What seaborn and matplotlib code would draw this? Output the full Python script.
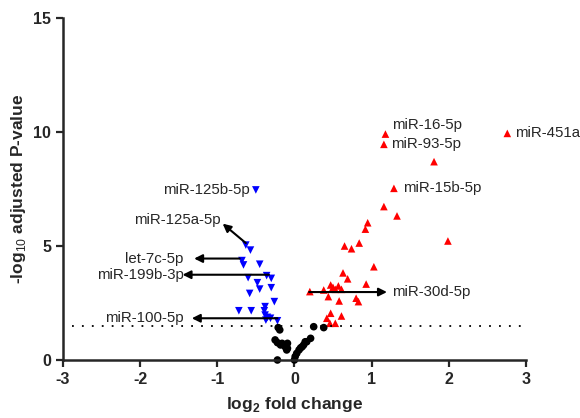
import numpy as np
import pandas as pd
import matplotlib
matplotlib.use('Agg')
import matplotlib.pyplot as plt
import seaborn as sns

# log2 fold change / -log10 adjusted p
down_x = [-0.50, -0.63, -0.57, -0.68, -0.66, -0.45, -0.60, -0.36, -0.30, -0.48, -0.45, -0.30,
          -0.58, -0.26, -0.72, -0.56, -0.38, -0.39, -0.38, -0.35, -0.31, -0.22, -0.37]
down_y = [7.46, 5.04, 4.82, 4.36, 4.17, 4.20, 3.61, 3.70, 3.58, 3.39, 3.11, 3.17,
          2.92, 2.56, 2.16, 2.16, 2.34, 2.16, 1.97, 1.87, 1.83, 1.72, 1.75]

up_x = [2.76, 1.18, 1.16, 1.81, 1.29, 1.16, 1.33, 0.95, 0.92, 0.84, 0.65, 0.74, 1.99, 1.03,
        0.63, 0.69, 0.93, 0.20, 0.38, 0.47, 0.50, 0.53, 0.57, 0.61, 0.44, 0.58, 0.80, 0.83,
        0.47, 0.42, 0.61, 0.46, 0.53]
up_y = [9.94, 9.91, 9.46, 8.70, 7.53, 6.73, 6.32, 6.02, 5.74, 5.13, 5.00, 4.88, 5.22, 4.09,
        3.82, 3.56, 3.33, 3.00, 3.07, 3.29, 3.19, 3.10, 3.25, 3.10, 2.78, 2.59, 2.71, 2.56,
        2.05, 1.83, 1.93, 1.61, 1.61]

ns_x = [-0.21, -0.19, -0.25, -0.22, -0.18, -0.12, -0.09, -0.10, -0.16, -0.22, 0.00, 0.01,
        0.03, 0.06, 0.08, 0.10, 0.12, 0.14, 0.16, 0.21, 0.25, 0.38, -0.09]
ns_y = [1.42, 1.32, 0.88, 0.76, 0.66, 0.58, 0.73, 0.44, 0.73, 0.00, 0.00, 0.15,
        0.29, 0.44, 0.53, 0.58, 0.66, 0.80, 0.80, 0.95, 1.46, 1.42, 0.51]

threshold = 1.5

# plain labels: name, x, y, alignment
plain_labels = [
    ('miR-125b-5p', -0.58, 7.46, 'right'),
    ('miR-16-5p', 1.27, 10.3, 'left'),
    ('miR-93-5p', 1.25, 9.46, 'left'),
    ('miR-15b-5p', 1.41, 7.55, 'left'),
    ('miR-451a', 2.86, 9.96, 'left'),
]
# arrow labels: name, text x, text y, alignment, arrow tail (x, y), arrow head (x, y)
arrow_labels = [
    ('miR-125a-5p', -0.96, 6.14, 'right', (-0.63, 5.13), (-0.93, 5.98)),
    ('let-7c-5p', -1.44, 4.45, 'right', (-0.71, 4.45), (-1.30, 4.45)),
    ('miR-199b-3p', -1.43, 3.74, 'right', (-0.33, 3.74), (-1.45, 3.74)),
    ('miR-100-5p', -1.43, 1.82, 'right', (-0.22, 1.83), (-1.33, 1.83)),
    ('miR-30d-5p', 1.27, 2.98, 'left', (0.19, 2.98), (1.20, 2.98)),
]

df = pd.DataFrame({
    'log2fc': down_x + up_x + ns_x,
    'nlogp': down_y + up_y + ns_y,
    'group': ['down'] * len(down_x) + ['up'] * len(up_x) + ['ns'] * len(ns_x),
})

sns.set_style('ticks')
plt.rcParams['font.family'] = ['Liberation Sans', 'DejaVu Sans']
plt.rcParams['axes.unicode_minus'] = False
plt.rcParams['mathtext.fontset'] = 'custom'
plt.rcParams['mathtext.rm'] = 'Liberation Sans'
plt.rcParams['mathtext.bf'] = 'Liberation Sans:bold'

fig = plt.figure(figsize=(5.8, 4.18), dpi=100)
ax = fig.add_axes([0.1086, 0.1388, 0.798, 0.818])

sns.scatterplot(data=df, x='log2fc', y='nlogp', hue='group', style='group',
                palette={'down': '#0000ff', 'up': '#ff0000', 'ns': 'black'},
                markers={'down': 'v', 'up': '^', 'ns': 'o'},
                s=30, linewidth=0, legend=False, clip_on=False, ax=ax)

ax.axhline(threshold, xmin=0.02, xmax=1.0, color='black', lw=1.3, ls=(0, (1, 4.5)))

for name, tx, ty, ha in plain_labels:
    ax.text(tx, ty, name, ha=ha, va='center', fontsize=10.8, clip_on=False)

for name, tx, ty, ha, tail, head in arrow_labels:
    ax.annotate('', xy=head, xytext=tail,
                arrowprops=dict(arrowstyle='-|>', color='black', lw=1.5,
                                mutation_scale=12, shrinkA=0, shrinkB=0))
    ax.text(tx, ty, name, ha=ha, va='center', fontsize=10.8)

ax.set_xlim(-3, 3)
ax.set_ylim(0, 15)
ax.set_xticks([-3, -2, -1, 0, 1, 2, 3])
ax.set_yticks([0, 5, 10, 15])
ax.set_xlabel(r'log$_{\mathbf{2}}$ fold change', fontsize=12.5, fontweight='bold', labelpad=6)
ax.set_ylabel(r'-log$_{\mathrm{10}}$ adjusted P-value', fontsize=12.5, fontweight='bold', labelpad=4)

sns.despine(ax=ax)
for side in ['left', 'bottom']:
    ax.spines[side].set_linewidth(1.8)
ax.tick_params(axis='both', width=1.6, length=5, labelsize=11.5, direction='out')
for lab in ax.get_xticklabels() + ax.get_yticklabels():
    lab.set_fontweight('bold')

fig.savefig('out.png', dpi=100)
